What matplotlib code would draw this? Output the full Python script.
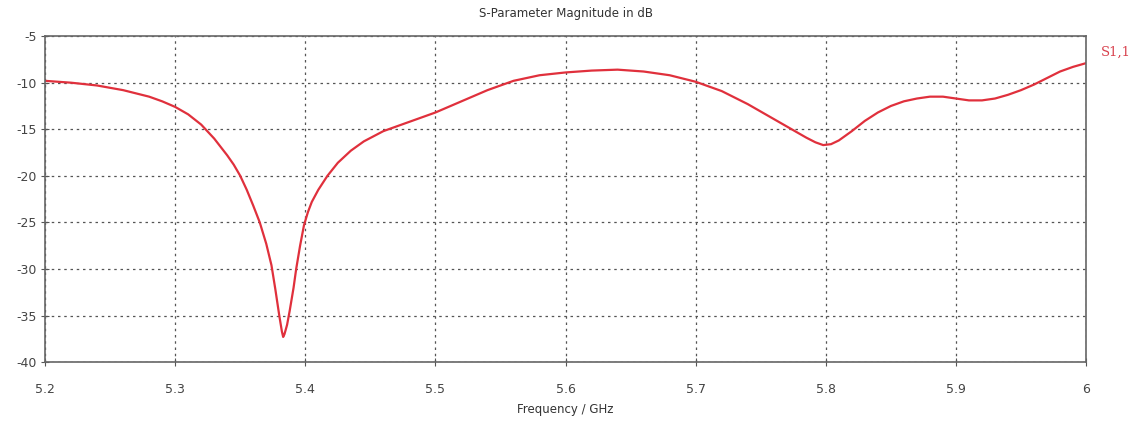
import matplotlib.pyplot as plt

# S11 curve
freq = [5.20, 5.22, 5.24, 5.26, 5.28, 5.29, 5.30, 5.31, 5.32, 5.33, 5.34, 5.345, 5.35,
        5.355, 5.36, 5.365, 5.37, 5.374, 5.377, 5.380, 5.382, 5.383, 5.384, 5.386,
        5.388, 5.391, 5.393, 5.396, 5.399, 5.402, 5.405, 5.41, 5.417, 5.425, 5.435,
        5.445, 5.46, 5.48, 5.50, 5.52, 5.54, 5.56, 5.58, 5.60, 5.62, 5.64, 5.66,
        5.68, 5.70, 5.72, 5.74, 5.76, 5.775, 5.785, 5.792, 5.798, 5.804, 5.81, 5.82,
        5.83, 5.84, 5.85, 5.86, 5.87, 5.88, 5.89, 5.90, 5.91, 5.92, 5.93, 5.94, 5.95,
        5.96, 5.97, 5.98, 5.99, 6.00]
s11 = [-9.8, -10.0, -10.3, -10.8, -11.5, -12.0, -12.6, -13.4, -14.5, -16.0, -17.8, -18.8, -20.0,
       -21.5, -23.2, -25.0, -27.3, -29.6, -32.2, -35.0, -36.7, -37.3, -37.0, -36.0,
       -34.5, -32.0, -30.0, -27.5, -25.3, -23.9, -22.8, -21.5, -20.0, -18.6, -17.3,
       -16.3, -15.2, -14.2, -13.2, -12.0, -10.8, -9.8, -9.2, -8.9, -8.7, -8.6, -8.8,
       -9.2, -9.9, -10.9, -12.3, -13.9, -15.1, -15.9, -16.4, -16.7, -16.6, -16.2, -15.2,
       -14.1, -13.2, -12.5, -12.0, -11.7, -11.5, -11.5, -11.7, -11.9, -11.9, -11.7, -11.3, -10.8,
       -10.2, -9.5, -8.8, -8.3, -7.9]
xticks = [5.2, 5.3, 5.4, 5.5, 5.6, 5.7, 5.8, 5.9, 6.0]
xlabels = ['5.2', '5.3', '5.4', '5.5', '5.6', '5.7', '5.8', '5.9', '6']
yticks = [-40, -35, -30, -25, -20, -15, -10, -5]

plt.rcParams['font.family'] = ['DejaVu Sans']
plt.rcParams['axes.unicode_minus'] = False

fig = plt.figure(figsize=(11.43, 4.25), dpi=100)
ax = fig.add_axes([0.0394, 0.148, 0.9108, 0.767])

ax.plot(freq, s11, color='#e0303c', linewidth=1.6)

ax.set_xlim(5.2, 6.0)
ax.set_ylim(-40, -5)
ax.set_xticks(xticks)
ax.set_xticklabels(xlabels)
ax.set_yticks(yticks)
ax.grid(True, linestyle=(0, (2, 3)), color='#555555', linewidth=0.9)
ax.tick_params(direction='inout', length=6, color='#555555', labelsize=9,
               labelcolor='#444444', pad=3)
ax.tick_params(axis='x', pad=12)
for s in ax.spines.values():
    s.set_color('#666666')
    s.set_linewidth(1.2)

ax.set_title('S-Parameter Magnitude in dB', fontsize=8.5, color='#333333', pad=14)
ax.set_xlabel('Frequency / GHz', fontsize=8.5, color='#333333', labelpad=5)
ax.text(1.014, 0.94, 'S1,1', transform=ax.transAxes, color='#d8404c',
        fontsize=9.5, family='DejaVu Serif')

fig.savefig('out.png', dpi=100)
